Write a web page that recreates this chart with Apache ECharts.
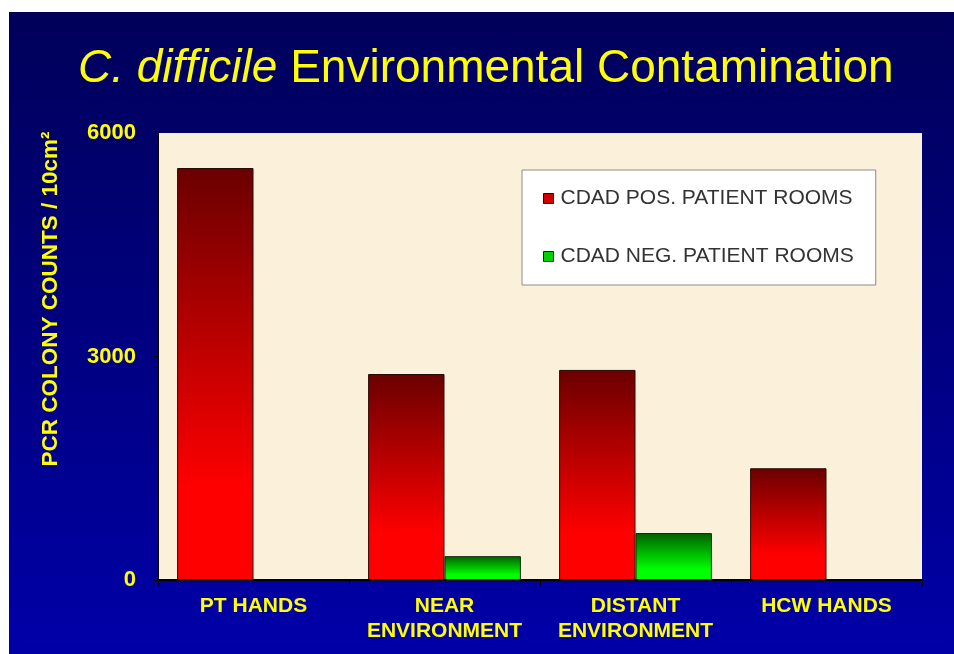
<!DOCTYPE html>
<html>
<head>
<meta charset="utf-8" />
<title>C. difficile Environmental Contamination</title>
<script src="https://cdn.jsdelivr.net/npm/echarts@6/dist/echarts.min.js"></script>
<style>
  body { margin: 0; background: #fff; }
  #main {
    position: absolute; left: 9px; top: 12px; width: 945px; height: 642px;
    background: linear-gradient(to bottom, #00005a 0%, #000078 40%, #0000a8 100%);
  }
</style>
</head>
<body>
<div id="main"></div>
<script>
// categories and values
var categories = ['PT HANDS', 'NEAR\nENVIRONMENT', 'DISTANT\nENVIRONMENT', 'HCW HANDS'];
var posRooms = [5530, 2765, 2820, 1500];
var negRooms = [null, 320, 630, null];
var yTicks = [0, 3000, 6000];

var yellow = '#ffff00';

function grad(top, bottom) {
  return new echarts.graphic.LinearGradient(0, 0, 0, 1, [
    { offset: 0, color: top },
    { offset: 0.78, color: bottom },
    { offset: 1, color: bottom }
  ]);
}

var myChart = echarts.init(document.getElementById('main'));
var option = {
  animation: false,
  title: {
    text: '{i|C. difficile} Environmental Contamination',
    left: 64,
    top: 29,
    textStyle: {
      color: yellow, fontSize: 46, fontWeight: 'normal', fontFamily: 'Liberation Sans',
      rich: { i: { color: yellow, fontSize: 46, fontStyle: 'italic', fontFamily: 'Liberation Sans' } }
    }
  },
  legend: {
    orient: 'vertical',
    left: 513,
    top: 158,
    backgroundColor: '#ffffff',
    borderColor: '#8c8c8c',
    borderWidth: 1,
    padding: [18, 22, 18, 21],
    itemGap: 37,
    itemWidth: 10,
    itemHeight: 10,
    icon: 'rect',
    textStyle: { color: '#333', fontSize: 21, fontFamily: 'Liberation Sans', padding: [0, 0, 0, 2] },
    data: [
      { name: 'CDAD POS. PATIENT ROOMS', itemStyle: { color: '#d00000', borderColor: '#300', borderWidth: 1 } },
      { name: 'CDAD NEG. PATIENT ROOMS', itemStyle: { color: '#00d000', borderColor: '#030', borderWidth: 1 } }
    ]
  },
  grid: {
    left: 149, right: 32, top: 121, bottom: 74,
    show: true, backgroundColor: '#fbf0da', borderWidth: 0
  },
  xAxis: {
    type: 'category',
    data: categories,
    axisLine: { lineStyle: { color: '#000', width: 2 } },
    axisTick: { show: true, interval: 0, length: 6, lineStyle: { color: '#000' } },
    axisLabel: {
      interval: 0,
      color: yellow, fontSize: 21, fontWeight: 'bold', fontFamily: 'Liberation Sans',
      lineHeight: 25, margin: 14
    }
  },
  yAxis: {
    type: 'value',
    min: yTicks[0],
    max: yTicks[yTicks.length - 1],
    interval: 3000,
    splitLine: { show: false },
    axisLine: { show: true, lineStyle: { color: '#000', width: 1 } },
    axisTick: { show: true, length: 5, lineStyle: { color: '#000' } },
    axisLabel: {
      color: yellow, fontSize: 22, fontWeight: 'bold', fontFamily: 'Liberation Sans', margin: 22,
      formatter: function (v) { return String(v); }
    }
  },
  graphic: [{
    type: 'text',
    x: 42, y: 287,
    rotation: Math.PI / 2,
    style: {
      text: 'PCR COLONY COUNTS / 10cm²',
      fill: yellow, fontSize: 22.5, fontWeight: 'bold', fontFamily: 'Liberation Sans',
      align: 'center', verticalAlign: 'middle'
    }
  }],
  series: [
    {
      name: 'CDAD POS. PATIENT ROOMS',
      type: 'bar',
      data: posRooms,
      barGap: '0%',
      barCategoryGap: '20%',
      itemStyle: { color: grad('#6a0000', '#ff0000'), borderColor: '#2a0a05', borderWidth: 1 }
    },
    {
      name: 'CDAD NEG. PATIENT ROOMS',
      type: 'bar',
      data: negRooms,
      itemStyle: { color: grad('#006000', '#00ff00'), borderColor: '#0a2a05', borderWidth: 1 }
    }
  ]
};
myChart.setOption(option);
</script>
</body>
</html>
